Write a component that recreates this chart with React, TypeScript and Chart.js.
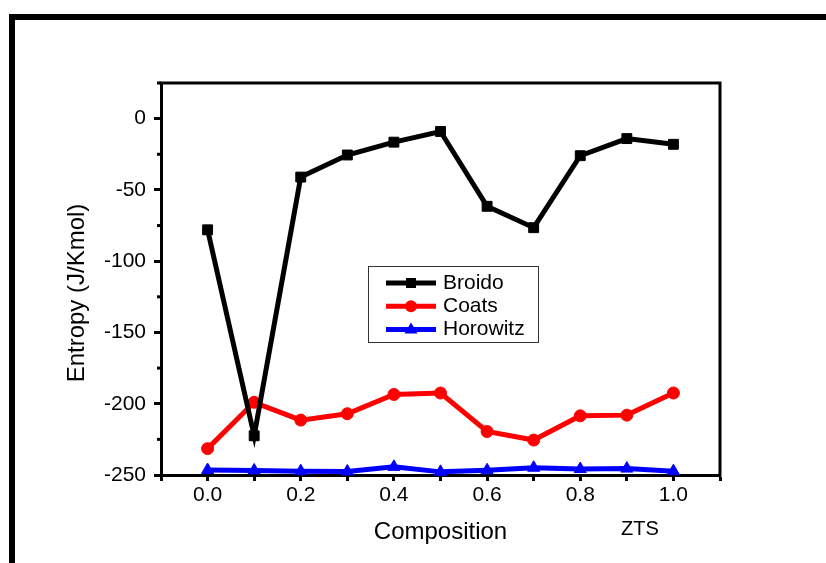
import React, { useEffect, useRef } from "react";
import { Chart, registerables } from "chart.js";

Chart.register(...registerables);

// ---- data ----
const compositions = [0.0, 0.1, 0.2, 0.3, 0.4, 0.5, 0.6, 0.7, 0.8, 0.9, 1.0];
const broido = [-78, -222.5, -41, -25.5, -16.5, -9, -61.5, -76.5, -26, -14, -18];
const coats = [-231.5, -199, -211.5, -207, -193.5, -192.5, -219.5, -225.5, -208.5, -208, -192.5];
const horowitz = [-246.5, -246.8, -247.3, -247.5, -244.3, -247.8, -246.7, -244.9, -245.8, -245.5, -247.3];
const seriesNames = ["Broido", "Coats", "Horowitz"];
const seriesColors = ["#000000", "#ff0000", "#0000ff"];
const seriesMarkers = ["rect", "circle", "triangle"];
const xTitle = "Composition";
const yTitle = "Entropy (J/Kmol)";
const xNote = "ZTS";

const FONT = '"Liberation Sans", Arial, Helvetica, sans-serif';

function drawMarker(ctx: CanvasRenderingContext2D, kind: string, x: number, y: number, color: string) {
  ctx.fillStyle = color;
  ctx.beginPath();
  if (kind === "rect") {
    ctx.rect(x - 5, y - 5, 10, 10);
  } else if (kind === "circle") {
    ctx.arc(x, y, 6, 0, Math.PI * 2);
  } else {
    ctx.moveTo(x, y - 7);
    ctx.lineTo(x + 6.5, y + 4);
    ctx.lineTo(x - 6.5, y + 4);
    ctx.closePath();
  }
  ctx.fill();
}

const decor = {
  id: "decor",
  afterDraw(chart: any) {
    const { ctx, chartArea: ca, scales } = chart;
    ctx.save();
    // top and right of the plot box
    ctx.strokeStyle = "#000";
    ctx.lineWidth = 3;
    ctx.beginPath();
    ctx.moveTo(ca.left - 1.5, ca.top);
    ctx.lineTo(ca.right, ca.top);
    ctx.lineTo(ca.right, ca.bottom + 1.5);
    ctx.stroke();

    // short minor ticks on the y axis
    const ys = scales.y;
    ys.ticks.forEach((t: any) => {
      if (Math.round(t.value) % 50 !== 0) {
        const py = ys.getPixelForValue(t.value);
        ctx.beginPath();
        ctx.moveTo(ca.left - 4, py);
        ctx.lineTo(ca.left, py);
        ctx.stroke();
      }
    });

    // axis titles
    ctx.fillStyle = "#000";
    ctx.font = `24px ${FONT}`;
    ctx.textAlign = "center";
    ctx.textBaseline = "middle";
    ctx.fillText(xTitle, (ca.left + ca.right) / 2, ca.bottom + 57);
    ctx.save();
    ctx.translate(ca.left - 84, ca.top + 210);
    ctx.rotate(-Math.PI / 2);
    ctx.fillText(yTitle, 0, 0);
    ctx.restore();
    ctx.font = `20px ${FONT}`;
    ctx.fillText(xNote, ca.left + 479, ca.bottom + 54);

    // legend
    const lx = ca.left + 207;
    const ly = ca.top + 183;
    ctx.fillStyle = "#fff";
    ctx.fillRect(lx, ly, 170, 76);
    ctx.strokeStyle = "#333";
    ctx.lineWidth = 1;
    ctx.strokeRect(lx + 0.5, ly + 0.5, 170, 76);
    ctx.font = `21px ${FONT}`;
    ctx.textAlign = "left";
    seriesNames.forEach((name, i) => {
      const ry = ly + 17 + i * 23.3;
      ctx.strokeStyle = seriesColors[i];
      ctx.lineWidth = 5;
      ctx.beginPath();
      ctx.moveTo(lx + 18, ry);
      ctx.lineTo(lx + 68, ry);
      ctx.stroke();
      drawMarker(ctx, seriesMarkers[i], lx + 43, ry, seriesColors[i]);
      ctx.fillStyle = "#000";
      ctx.fillText(name, lx + 75, ry);
    });
    ctx.restore();
  },
};

export default function App() {
  const ref = useRef<HTMLCanvasElement>(null);

  useEffect(() => {
    const seriesValues = [broido, coats, horowitz];
    const lineWidths = [5, 5, 5];
    const radii = [7, 6, 7];
    const datasets = seriesNames.map((name, i) => ({
      label: name,
      data: compositions.map((x, j) => ({ x, y: seriesValues[i][j] })),
      showLine: true,
      borderColor: seriesColors[i],
      backgroundColor: seriesColors[i],
      borderWidth: lineWidths[i],
      pointStyle: seriesMarkers[i] as any,
      pointRadius: radii[i],
      pointBorderWidth: 1,
      pointBackgroundColor: seriesColors[i],
      pointBorderColor: seriesColors[i],
      clip: false as any,
      tension: 0,
    }));

    const chart = new Chart(ref.current!, {
      type: "scatter",
      data: { datasets },
      plugins: [decor],
      options: {
        animation: false,
        responsive: false,
        devicePixelRatio: 1,
        layout: { padding: { left: 0, right: 106, top: 83, bottom: 0 } },
        plugins: {
          legend: { display: false },
          title: { display: false },
          tooltip: { enabled: false },
        },
        scales: {
          x: {
            type: "linear",
            min: -0.1,
            max: 1.1,
            afterFit: (s: any) => {
              s.height = 88;
            },
            grid: {
              drawOnChartArea: false,
              drawTicks: true,
              tickLength: 6,
              tickWidth: 3,
              tickColor: "#000",
            },
            border: { display: true, color: "#000", width: 3 },
            ticks: {
              stepSize: 0.1,
              autoSkip: false,
              maxRotation: 0,
              padding: 2,
              color: "#000",
              font: { family: FONT, size: 21 },
              callback: (v: any) => {
                const n = Math.round(Number(v) * 10);
                if (n >= 0 && n <= 10 && n % 2 === 0) return (n / 10).toFixed(1);
                return "";
              },
            },
          },
          y: {
            type: "linear",
            min: -250,
            max: 25,
            afterFit: (s: any) => {
              s.width = 161;
            },
            grid: {
              drawOnChartArea: false,
              drawTicks: true,
              tickLength: 7,
              tickWidth: 3,
              tickColor: (c: any) =>
                c.tick && Math.round(c.tick.value) % 50 === 0 ? "#000" : "rgba(0,0,0,0)",
            },
            border: { display: true, color: "#000", width: 3 },
            ticks: {
              stepSize: 25,
              autoSkip: false,
              padding: 8,
              color: "#000",
              font: { family: FONT, size: 21 },
              callback: (v: any) => {
                const n = Math.round(Number(v));
                return n % 50 === 0 ? String(n) : "";
              },
            },
          },
        },
      },
    });
    return () => chart.destroy();
  }, []);

  return (
    <div
      style={{
        position: "absolute",
        left: 0,
        top: 0,
        width: 826,
        height: 563,
        overflow: "hidden",
        background: "#fff",
      }}
    >
      <div
        style={{
          position: "absolute",
          left: 9,
          top: 14,
          width: 1000,
          height: 1000,
          border: "6px solid #000",
          boxSizing: "border-box",
        }}
      />
      <canvas
        ref={ref}
        width={826}
        height={563}
        style={{ position: "absolute", left: 0, top: 0, width: 826, height: 563 }}
      />
    </div>
  );
}
